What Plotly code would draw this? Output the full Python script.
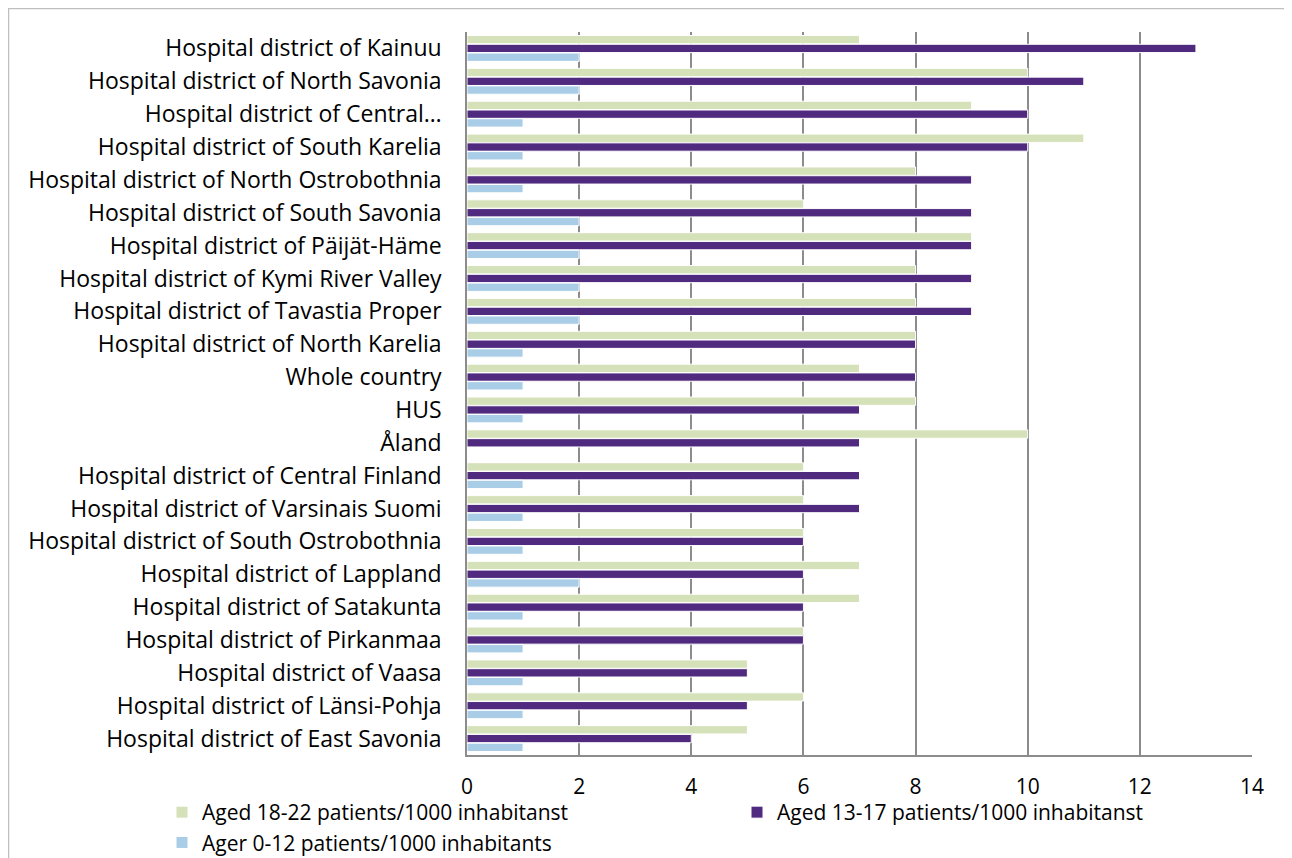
import plotly.graph_objects as go

categories = [
    "Hospital district of Kainuu",
    "Hospital district of North Savonia",
    "Hospital district of Central…",
    "Hospital district of South Karelia",
    "Hospital district of North Ostrobothnia",
    "Hospital district of South Savonia",
    "Hospital district of Päijät-Häme",
    "Hospital district of Kymi River Valley",
    "Hospital district of Tavastia Proper",
    "Hospital district of North Karelia",
    "Whole country",
    "HUS",
    "Åland",
    "Hospital district of Central Finland",
    "Hospital district of Varsinais Suomi",
    "Hospital district of South Ostrobothnia",
    "Hospital district of Lappland",
    "Hospital district of Satakunta",
    "Hospital district of Pirkanmaa",
    "Hospital district of Vaasa",
    "Hospital district of Länsi-Pohja",
    "Hospital district of East Savonia",
]
aged_18_22 = [7, 10, 9, 11, 8, 6, 9, 8, 8, 8, 7, 8, 10, 6, 6, 6, 7, 7, 6, 5, 6, 5]
aged_13_17 = [13, 11, 10, 10, 9, 9, 9, 9, 9, 8, 8, 7, 7, 7, 7, 6, 6, 6, 6, 5, 5, 4]
aged_0_12 = [2, 2, 1, 1, 1, 2, 2, 2, 2, 1, 1, 1, 0, 1, 1, 1, 2, 1, 1, 1, 1, 1]
series_names = [
    "Aged 18-22 patients/1000 inhabitanst",
    "Aged 13-17 patients/1000 inhabitanst",
    "Ager 0-12 patients/1000 inhabitants",
]
colors = ["#D4E1B9", "#4F2A7F", "#A9CDE7"]
legend_ids = ["legend", "legend2", "legend"]
x_ticks = [0, 2, 4, 6, 8, 10, 12, 14]

# page offset (default body margin of the html page)
OFF = 8
W, H = 1292, 858
ml, mt = 467 - OFF, 32 - OFF
mr = (W + OFF) - 1252
mb = (H + OFF) - 755
pw, ph = W - ml - mr, H - mt - mb
FS = 23
FS_LOW = 21

fig = go.Figure()
for name, vals, c, lg in zip(series_names, [aged_18_22, aged_13_17, aged_0_12], colors, legend_ids):
    fig.add_trace(go.Bar(
        y=categories, x=vals, name=name, orientation="h", legend=lg,
        marker=dict(color=c, line=dict(color="white", width=1)),
    ))

def px_x(page_x):
    return (page_x - OFF - ml) / pw

def px_y(page_y):
    return (H - mb - (page_y - OFF)) / ph

fig.add_shape(type="rect", xref="paper", yref="paper",
              x0=px_x(8.5), x1=px_x(1285), y0=px_y(900), y1=px_y(8.5),
              line=dict(color="#BFBFBF", width=1.5), layer="below")

leg_common = dict(orientation="v", xanchor="left", yanchor="top", bgcolor="rgba(0,0,0,0)",
                  font=dict(size=FS_LOW, color="black"), itemwidth=30, tracegroupgap=0,
                  traceorder="normal")

fig.update_layout(
    width=W, height=H,
    margin=dict(l=ml, r=mr, t=mt, b=mb, autoexpand=False),
    paper_bgcolor="white", plot_bgcolor="white",
    font=dict(family="Open Sans", size=FS, color="black"),
    barmode="group", bargap=0.2, bargroupgap=0.05,
    showlegend=True,
    legend=dict(x=px_x(162), y=px_y(792), **leg_common),
    legend2=dict(x=px_x(737), y=px_y(792), **leg_common),
    xaxis=dict(range=[0, 14], tickvals=x_ticks, showgrid=True, gridcolor="#8C8C8C", gridwidth=1.5,
               zeroline=False, showline=True, linecolor="#8C8C8C", linewidth=1.5,
               ticks="", ticklabelstandoff=12, tickfont=dict(size=FS_LOW)),
    yaxis=dict(autorange="reversed", showgrid=False, showline=True, linecolor="#8C8C8C",
               linewidth=1.5, ticks="", ticklabelstandoff=19, tickfont=dict(size=FS)),
)

fig.write_html("out.html")
